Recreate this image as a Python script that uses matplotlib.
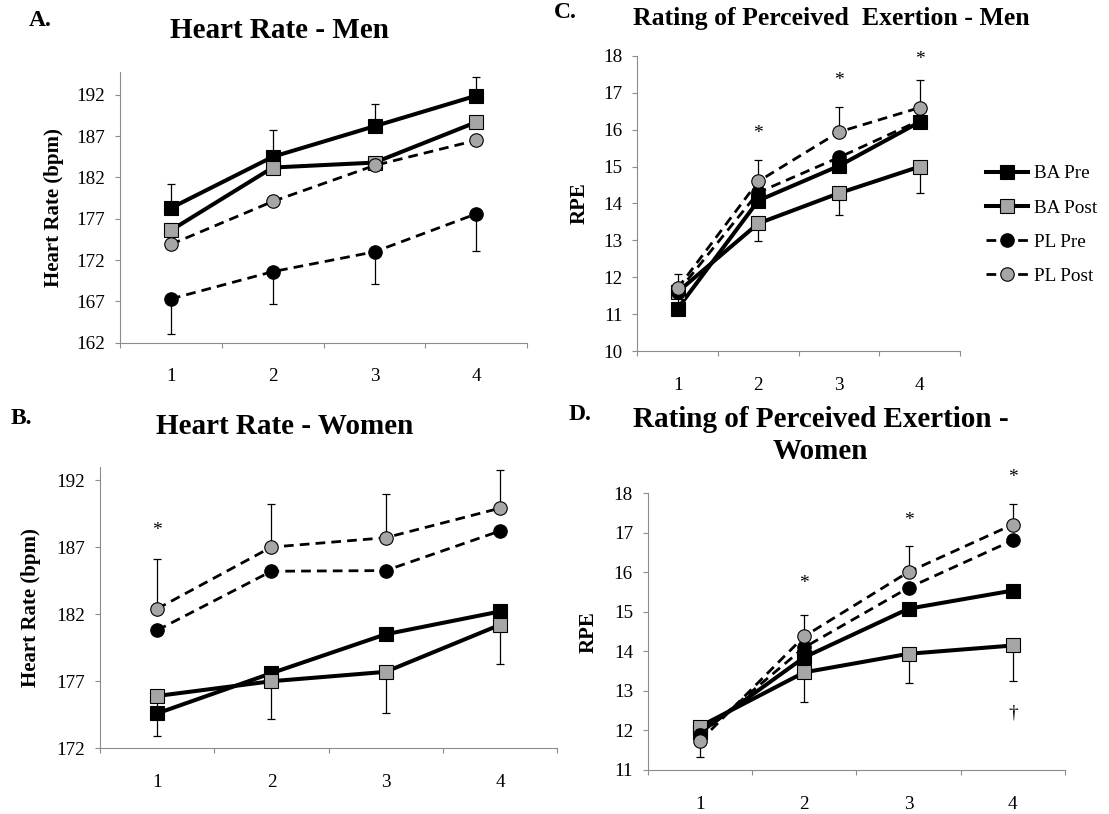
import numpy as np
import matplotlib
matplotlib.use("Agg")
import matplotlib.pyplot as plt
from matplotlib.lines import Line2D

plt.rcParams['font.family'] = ['Liberation Serif', 'DejaVu Serif']

# ---- data ----
stages = ["1", "2", "3", "4"]
series_names = ["BA Pre", "BA Post", "PL Pre", "PL Post"]

# A. Heart rate - men
hr_men_ba_pre = [178.3, 184.5, 188.2, 191.9]
hr_men_ba_post = [175.6, 183.2, 183.8, 188.7]
hr_men_pl_pre = [167.3, 170.6, 173.0, 177.6]
hr_men_pl_post = [173.9, 179.1, 183.45, 186.5]
hr_men_ba_pre_err_up = [2.9, 3.3, 2.7, 2.3]
hr_men_pl_pre_err_down = [4.2, 3.9, 3.9, 4.45]

# B. Heart rate - women
hr_women_ba_pre = [174.6, 177.6, 180.5, 182.2]
hr_women_ba_post = [175.9, 177.0, 177.7, 181.2]
hr_women_pl_pre = [180.8, 185.2, 185.25, 188.2]
hr_women_pl_post = [182.4, 187.0, 187.7, 189.9]
hr_women_ba_post_err_down = [3.0, 2.8, 3.1, 2.9]
hr_women_pl_post_err_up = [3.7, 3.2, 3.25, 2.85]

# C. RPE - men
rpe_men_ba_pre = [11.15, 14.08, 15.02, 16.21]
rpe_men_ba_post = [11.6, 13.46, 14.28, 15.0]
rpe_men_pl_pre = [11.6, 14.3, 15.25, 16.25]
rpe_men_pl_post = [11.7, 14.6, 15.94, 16.6]
rpe_men_ba_post_err_down = [0.6, 0.48, 0.58, 0.72]
rpe_men_pl_post_err_up = [0.4, 0.59, 0.68, 0.75]

# D. RPE - women
rpe_women_ba_pre = [11.95, 13.85, 15.08, 15.54]
rpe_women_ba_post = [12.1, 13.47, 13.94, 14.15]
rpe_women_pl_pre = [11.88, 14.1, 15.61, 16.81]
rpe_women_pl_post = [11.73, 14.38, 16.01, 17.21]
rpe_women_ba_post_err_down = [0.77, 0.74, 0.74, 0.91]
rpe_women_pl_post_err_up = [0.3, 0.55, 0.66, 0.51]

# significance marks (stage, y, symbol)
marks_b = [(1, 188.5, "*")]
marks_c = [(2, 16.0, "*"), (3, 17.42, "*"), (4, 18.0, "*")]
marks_d = [(2, 15.8, "*"), (3, 17.4, "*"), (4, 18.5, "*"), (4, 12.54, "\u2020")]

# ---- styling ----
GREY_FILL = "#a6a6a6"
AXIS_GREY = "#8c8c8c"
styles = {
    "BA Pre": dict(color="black", lw=2.9, ls="-", marker="s", mfc="black"),
    "BA Post": dict(color="black", lw=2.9, ls="-", marker="s", mfc=GREY_FILL),
    "PL Pre": dict(color="black", lw=2.0, ls=(0, (3.5, 2.2)), marker="o", mfc="black"),
    "PL Post": dict(color="black", lw=2.0, ls=(0, (3.5, 2.2)), marker="o", mfc=GREY_FILL),
}

W, H = 1109, 814
fig = plt.figure(figsize=(W / 100, H / 100), dpi=100)


def px_axes(left, right, top, bottom):
    return fig.add_axes([left / W, 1 - bottom / H, (right - left) / W, (bottom - top) / H])


def draw_panel(ax, values, errors, ylim, yticks, ylabel, label_x):
    x = np.arange(1, len(stages) + 1)
    for i, name in enumerate(series_names):
        st = styles[name]
        if name in errors:
            lo, hi = errors[name]
            ax.errorbar(x, values[name], yerr=[lo, hi], fmt="none", ecolor="black",
                        elinewidth=0.9, capsize=3.2, capthick=0.9, zorder=2 + i)
        ax.plot(x, values[name], color=st["color"], lw=st["lw"], ls=st["ls"],
                marker=st["marker"], ms=9.7, mfc=st["mfc"], mec="black", mew=0.8,
                zorder=2.5 + i, clip_on=False)
    ax.set_xlim(0.5, len(stages) + 0.5)
    ax.set_ylim(*ylim)
    ax.set_xticks(x)
    ax.set_xticklabels(stages)
    ax.set_xticks(np.arange(0.5, len(stages) + 1), minor=True)
    ax.set_yticks(yticks)
    ax.tick_params(axis="x", which="major", length=0, pad=18.5, labelsize=13.8)
    ax.tick_params(axis="x", which="minor", length=3.6, width=0.8, color=AXIS_GREY)
    ax.tick_params(axis="y", length=3.6, width=0.8, color=AXIS_GREY, pad=7, labelsize=13.8)
    for s in ["top", "right"]:
        ax.spines[s].set_visible(False)
    for s in ["left", "bottom"]:
        ax.spines[s].set_color(AXIS_GREY)
        ax.spines[s].set_linewidth(0.8)
    ax.set_ylabel(ylabel, fontsize=15, fontweight="bold", va="center")
    ax.yaxis.set_label_coords(label_x, 0.5)


def add_marks(ax, marks):
    for stage, yv, sym in marks:
        ax.annotate(sym, (stage, yv), xytext=(0, -2.6), textcoords="offset points",
                    ha="center", va="center", fontsize=14, annotation_clip=False)


# A
axA = px_axes(120, 527.3, 71.7, 342.7)
draw_panel(axA,
           {"BA Pre": hr_men_ba_pre, "BA Post": hr_men_ba_post,
            "PL Pre": hr_men_pl_pre, "PL Post": hr_men_pl_post},
           {"BA Pre": ([0] * 4, hr_men_ba_pre_err_up),
            "PL Pre": (hr_men_pl_pre_err_down, [0] * 4)},
           (162, 194.8), np.arange(162, 193, 5), "Heart Rate (bpm)", -0.163)

# B
axB = px_axes(100, 557, 467.3, 748.3)
draw_panel(axB,
           {"BA Pre": hr_women_ba_pre, "BA Post": hr_women_ba_post,
            "PL Pre": hr_women_pl_pre, "PL Post": hr_women_pl_post},
           {"BA Post": (hr_women_ba_post_err_down, [0] * 4),
            "PL Post": ([0] * 4, hr_women_pl_post_err_up)},
           (172, 192.95), np.arange(172, 193, 5), "Heart Rate (bpm)", -0.152)
add_marks(axB, marks_b)

# C
axC = px_axes(637.3, 960, 56, 351)
draw_panel(axC,
           {"BA Pre": rpe_men_ba_pre, "BA Post": rpe_men_ba_post,
            "PL Pre": rpe_men_pl_pre, "PL Post": rpe_men_pl_post},
           {"BA Post": (rpe_men_ba_post_err_down, [0] * 4),
            "PL Post": ([0] * 4, rpe_men_pl_post_err_up)},
           (10, 18), np.arange(10, 19, 1), "RPE", -0.178)
add_marks(axC, marks_c)

# D
axD = px_axes(647.7, 1065, 493.3, 770)
draw_panel(axD,
           {"BA Pre": rpe_women_ba_pre, "BA Post": rpe_women_ba_post,
            "PL Pre": rpe_women_pl_pre, "PL Post": rpe_women_pl_post},
           {"BA Post": (rpe_women_ba_post_err_down, [0] * 4),
            "PL Post": ([0] * 4, rpe_women_pl_post_err_up)},
           (11, 18), np.arange(11, 19, 1), "RPE", -0.141)
add_marks(axD, marks_d)

# titles and panel letters (pixel positions)
def ftext(xp, yp, s, **kw):
    fig.text(xp / W, 1 - yp / H, s, ha="center", va="center", fontweight="bold", **kw)

ftext(280, 30, "Heart Rate - Men", fontsize=21)
ftext(285, 426, "Heart Rate - Women", fontsize=21)
ftext(831, 18, "Rating of Perceived  Exertion - Men", fontsize=18.5)
ftext(820.5, 435.5, "Rating of Perceived Exertion -\nWomen", fontsize=21, linespacing=1.25)
ftext(40, 21, "A.", fontsize=17)
ftext(21, 418, "B.", fontsize=17)
ftext(565, 12, "C.", fontsize=17)
ftext(580, 414, "D.", fontsize=17)

# legend
handles = [Line2D([], [], color="black", lw=styles[n]["lw"], ls=styles[n]["ls"],
                  marker=styles[n]["marker"], ms=9.7, mfc=styles[n]["mfc"],
                  mec="black", mew=0.8) for n in series_names]
fig.legend(handles, series_names, loc="center left", bbox_to_anchor=(986 / W, 1 - 225 / H),
           frameon=False, fontsize=13.8, handlelength=2.2, handletextpad=0.3,
           labelspacing=0.88, borderpad=0, borderaxespad=0)

fig.savefig("out.png", dpi=100)
